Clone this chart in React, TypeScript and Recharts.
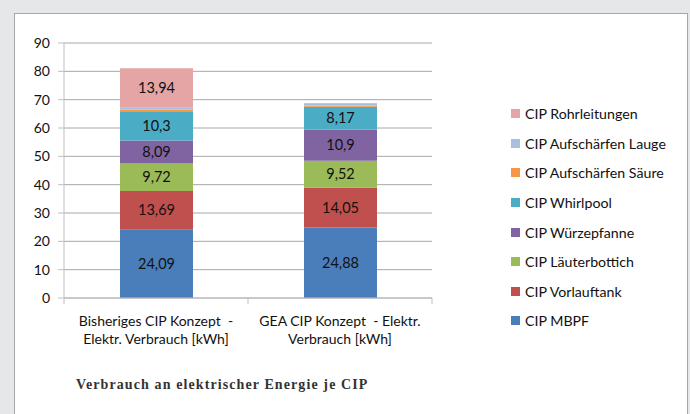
import React from "react";
import { BarChart, Bar, XAxis, YAxis, CartesianGrid, Legend, LabelList } from "recharts";

const categoryLine1 = ["Bisheriges CIP Konzept  -", "GEA CIP Konzept  - Elektr."];
const categoryLine2 = ["Elektr. Verbrauch [kWh]", "Verbrauch [kWh]"];

const mbpf = [24.09, 24.88];
const vorlauftank = [13.69, 14.05];
const laeuterbottich = [9.72, 9.52];
const wuerzepfanne = [8.09, 10.9];
const whirlpool = [10.3, 8.17];
const saeure = [0.55, 0.35];
const lauge = [0.7, 0.6];
const rohrleitungen = [13.94, 0.25];

const yTicks = [0, 10, 20, 30, 40, 50, 60, 70, 80, 90];

const seriesDefs = [
  { key: "mbpf", name: "CIP MBPF", values: mbpf, color: "#4a7ebb" },
  { key: "vorlauftank", name: "CIP Vorlauftank", values: vorlauftank, color: "#c0504d" },
  { key: "laeuterbottich", name: "CIP Läuterbottich", values: laeuterbottich, color: "#9bbb59" },
  { key: "wuerzepfanne", name: "CIP Würzepfanne", values: wuerzepfanne, color: "#8064a2" },
  { key: "whirlpool", name: "CIP Whirlpool", values: whirlpool, color: "#4bacc6" },
  { key: "saeure", name: "CIP Aufschärfen Säure", values: saeure, color: "#f79646" },
  { key: "lauge", name: "CIP Aufschärfen Lauge", values: lauge, color: "#a7c0de" },
  { key: "rohrleitungen", name: "CIP Rohrleitungen", values: rohrleitungen, color: "#e6a5a5" },
];

const data = categoryLine1.map((c, i) => {
  const row: any = { cat: c, idx: i };
  seriesDefs.forEach((s) => {
    row[s.key] = s.values[i];
  });
  return row;
});

const FONT = "Lato, 'Open Sans', sans-serif";

const fmt = (v: any) => (typeof v === "number" && v >= 3 ? String(v).replace(".", ",") : "");

const XTick = (props: any) => {
  const { x, y, payload, index } = props;
  const half = payload && payload.offset ? payload.offset : 92;
  const i = payload ? payload.index ?? index : index;
  return (
    <g>
      <line x1={x - half} y1={y - 8} x2={x - half} y2={y - 2} stroke="#bfbfbf" />
      {i === categoryLine1.length - 1 && (
        <line x1={x + half} y1={y - 8} x2={x + half} y2={y - 2} stroke="#bfbfbf" />
      )}
      <text x={x} y={y + 20} textAnchor="middle" fontFamily={FONT} fontSize={14} fill="#111" style={{ whiteSpace: "pre" }}>
        {categoryLine1[i]}
      </text>
      <text x={x} y={y + 38} textAnchor="middle" fontFamily={FONT} fontSize={14} fill="#111" style={{ whiteSpace: "pre" }}>
        {categoryLine2[i]}
      </text>
    </g>
  );
};

const LegendContent = () => {
  const items = [...seriesDefs].reverse();
  return (
    <div style={{ fontFamily: FONT, fontSize: 14.2, color: "#111" }}>
      {items.map((it) => (
        <div key={it.key} style={{ display: "flex", alignItems: "center", height: 29.6 }}>
          <span style={{ width: 9, height: 9, background: it.color, display: "inline-block", marginRight: 5 }} />
          <span>{it.name}</span>
        </div>
      ))}
    </div>
  );
};

export default function App() {
  return (
    <div style={{ position: "absolute", left: 0, top: 0, width: 690, height: 414, background: "#e6e7e8", overflow: "hidden" }}>
      <div style={{ position: "absolute", left: 14, top: 13, width: 672, height: 420, background: "#fff", border: "1px solid #a6a6a6" }} />
      <div style={{ position: "absolute", left: 0, top: 0 }}>
        <BarChart width={690} height={414} data={data} margin={{ top: 43, right: 83, bottom: 66, left: 24 }}>
          <CartesianGrid horizontal={true} vertical={false} stroke="#a8a8a8" />
          <XAxis
            dataKey="cat"
            height={50}
            axisLine={{ stroke: "#bfbfbf" }}
            tickLine={false}
            tick={<XTick />}
            interval={0}
          />
          <YAxis
            width={40}
            domain={[0, 90]}
            ticks={yTicks}
            interval={0}
            axisLine={{ stroke: "#bfbfbf" }}
            tickLine={{ stroke: "#bfbfbf" }}
            tickSize={6}
            tickMargin={8}
            tick={{ fontFamily: FONT, fontSize: 14, fill: "#111" }}
          />
          <Legend
            layout="vertical"
            verticalAlign="top"
            align="right"
            content={<LegendContent />}
            wrapperStyle={{ left: 511, top: 99, width: 175 }}
          />
          {seriesDefs.map((s) => (
            <Bar key={s.key} dataKey={s.key} name={s.name} stackId="a" fill={s.color} barSize={73} isAnimationActive={false}>
              <LabelList
                dataKey={s.key}
                position="center"
                formatter={fmt}
                style={{ fontFamily: FONT, fontSize: 14.5, fill: "#111" }}
              />
            </Bar>
          ))}
        </BarChart>
      </div>
      <div
        style={{
          position: "absolute",
          left: 76,
          top: 377,
          fontFamily: "'Liberation Serif', serif",
          fontWeight: "bold",
          fontSize: 14,
          letterSpacing: 1.1,
          color: "#333",
          whiteSpace: "nowrap",
        }}
      >
        Verbrauch an elektrischer Energie je CIP
      </div>
    </div>
  );
}
